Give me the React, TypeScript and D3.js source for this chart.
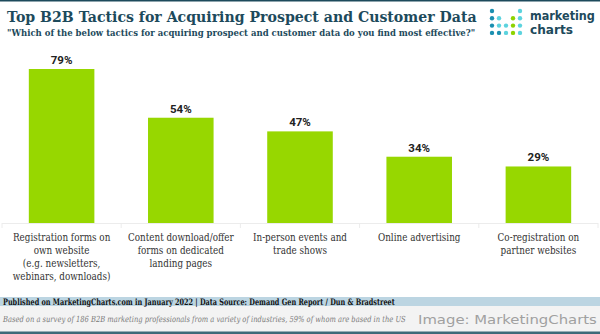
import React, { useLayoutEffect, useRef } from "react";
import * as d3 from "d3";

const categories: string[][] = [
  ["Registration forms on", "own website", "(e.g. newsletters,", "webinars, downloads)"],
  ["Content download/offer", "forms on dedicated", "landing pages"],
  ["In-person events and", "trade shows"],
  ["Online advertising"],
  ["Co-registration on", "partner websites"],
];
const values: number[] = [79, 54, 47, 34, 29];
const title = "Top B2B Tactics for Acquiring Prospect and Customer Data";
const subtitle = "\"Which of the below tactics for acquiring prospect and customer data do you find most effective?\"";
const published = "Published on MarketingCharts.com in January 2022 | Data Source: Demand Gen Report / Dun & Bradstreet";
const note = "Based on a survey of 186 B2B marketing professionals from a variety of industries, 59% of whom are based in the US";

// logo dots: [col,row,colorIndex]
const logoDots: [number, number, number][] = [
  [0, 0, 0], [4, 0, 1],
  [0, 1, 0], [1, 1, 1], [3, 1, 2], [4, 1, 1],
  [0, 2, 0], [1, 2, 1], [2, 2, 1], [3, 2, 2], [4, 2, 1],
  [0, 3, 0], [1, 3, 0], [2, 3, 1], [3, 3, 2], [4, 3, 1],
];
const logoColors = ["#1a8fb0", "#5cd3de", "#8dd300"];

const W = 600, H = 334;
const baseY = 223;
const serif = "'DejaVu Serif', serif";
const dark = "#1d4a5c";

function FitText(props: { x: number; y: number; width: number; children: string; [k: string]: any }) {
  const { x, y, width, children, ...rest } = props;
  const ref = useRef<SVGTextElement>(null);
  useLayoutEffect(() => {
    const el = ref.current;
    if (!el) return;
    const w = el.getComputedTextLength();
    const s = w > 0 ? width / w : 1;
    el.setAttribute("transform", `translate(${x},${y}) scale(${s},1)`);
  }, [x, y, width, children]);
  return (
    <text ref={ref} transform={`translate(${x},${y})`} {...rest}>{children}</text>
  );
}

export default function App() {
  const x = d3.scaleBand<number>().domain(d3.range(values.length)).range([2, 598]).paddingInner(0).paddingOuter(0);
  const y = d3.scaleLinear().domain([0, 79]).range([baseY, 69]);
  const barW = x.bandwidth() * 0.55;

  return (
    <svg width={W} height={H} style={{ position: "absolute", left: 0, top: 0 }} xmlns="http://www.w3.org/2000/svg">
      <rect x={0} y={0} width={W} height={H} fill="#ffffff" />
      <rect x={0} y={0} width={W} height={1.5} fill={dark} />
      <FitText x={7} y={22} width={470} fontFamily={serif} fontWeight="bold" fontSize={14} fill={dark}>{title}</FitText>
      <FitText x={7} y={36} width={469} fontFamily={serif} fontWeight="bold" fontSize={8.6} fill={dark}>{subtitle}</FitText>

      {logoDots.map(([c, r, k], i) => (
        <circle key={i} cx={492 + c * 7} cy={11 + r * 7.3} r={2.2} fill={logoColors[k]} />
      ))}
      <FitText x={530} y={20} width={65} fontFamily="'DejaVu Sans', sans-serif" fontWeight="bold" fontSize={12.5} fill={dark}>marketing</FitText>
      <FitText x={530} y={34} width={43} fontFamily="'DejaVu Sans', sans-serif" fontWeight="bold" fontSize={12.5} fill={dark}>charts</FitText>

      {/* baseline and separators */}
      <line x1={2} x2={598} y1={baseY + 0.5} y2={baseY + 0.5} stroke="#ececec" strokeWidth={1} />
      {d3.range(values.length + 1).map((i) => {
        const xx = i < values.length ? (x(i) as number) : 598;
        return <line key={i} x1={xx} x2={xx} y1={baseY} y2={baseY + 5} stroke="#ececec" strokeWidth={1} />;
      })}

      {values.map((v, i) => {
        const cx = (x(i) as number) + x.bandwidth() / 2;
        return (
          <g key={i}>
            <rect x={cx - barW / 2} y={y(v)} width={barW} height={baseY - y(v)} fill="#97d700" />
            <text x={cx} y={y(v) - 5} textAnchor="middle" fontFamily="Roboto, sans-serif" fontWeight="bold" fontSize={11.5} fill="#222">{v}%</text>
            {categories[i].map((line, j) => (
              <text key={j} transform={`translate(${cx},${240.5 + j * 13}) scale(0.84,1)`} textAnchor="middle"
                fontFamily={serif} fontSize={10.5} fill="#333">{line}</text>
            ))}
          </g>
        );
      })}

      {/* footer */}
      <rect x={0} y={297} width={W} height={9} fill="#bcd5e2" />
      <rect x={0} y={306} width={W} height={26} fill="#f3f3f3" />
      <rect x={0} y={331.5} width={W} height={2.5} fill="#3e6a78" />
      <FitText x={3} y={304.8} width={392} fontFamily={serif} fontWeight="bold" fontSize={8.8} fill="#111">{published}</FitText>
      <FitText x={3} y={322} width={402} fontFamily={serif} fontStyle="italic" fontSize={8.4} fill="#7a7a7a">{note}</FitText>
      <FitText x={418} y={323.5} width={179} fontFamily="'DejaVu Sans Condensed', 'DejaVu Sans', sans-serif" fontSize={12.5} fill="#a0a0a0">Image: MarketingCharts</FitText>
    </svg>
  );
}
